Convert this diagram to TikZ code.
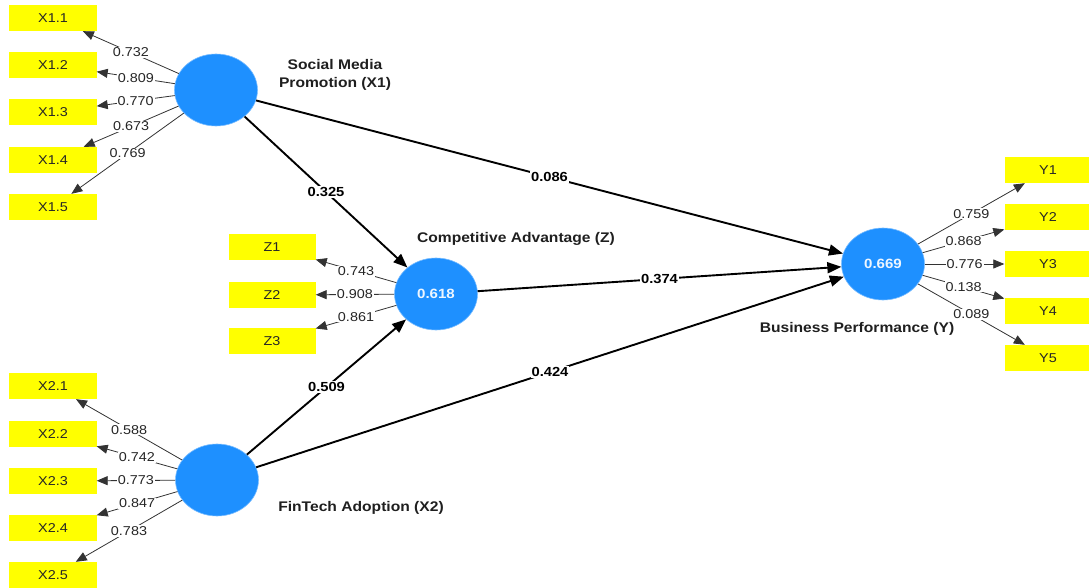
\documentclass[tikz,border=0pt]{standalone}
\usepackage{fontspec}
\setmainfont[FakeStretch=1.12]{Liberation Sans}
\usetikzlibrary{shapes.geometric,arrows.meta}
\definecolor{lvblue}{RGB}{30,144,255}
\definecolor{indyellow}{RGB}{255,255,0}
\begin{document}
\begin{tikzpicture}[x=1bp,y=-1bp,
 lv/.style={ellipse,fill=lvblue,draw=lvblue!60!white,line width=0.6bp,minimum width=83bp,minimum height=72bp,inner sep=0pt,text=white!92!lvblue,font=\fontsize{13.5}{13.5}\bfseries\selectfont},
 ind/.style={rectangle,fill=indyellow,minimum width=87bp,minimum height=26bp,inner sep=0pt,font=\fontsize{12.9}{12.9}\selectfont,text=black!85},
 load/.style={draw=black!80,line width=0.8bp,-{Triangle[length=11bp,width=9bp]}},
 pth/.style={draw=black,line width=1.9bp,-{Triangle[length=14bp,width=11bp]}},
 llab/.style={fill=white,inner sep=1bp,font=\fontsize{12.9}{12.9}\selectfont,text=black!85},
 plab/.style={fill=white,inner sep=1bp,font=\fontsize{13.2}{13.2}\bfseries\selectfont},
 ctitle/.style={font=\fontsize{14}{17.5}\bfseries\selectfont,align=center,text=black!88}]
\useasboundingbox (0,0) rectangle (1089,588);
% latent variables
\node[lv] (X1) at (216,90) {};
\node[lv] (Z) at (436,294) {0.618};
\node[lv] (Y) at (883,264) {0.669};
\node[lv] (X2) at (217,480) {};
% indicators X1
\node[ind] (X11) at (53,18) {X1.1};
\node[ind] (X12) at (53,65) {X1.2};
\node[ind] (X13) at (53,112) {X1.3};
\node[ind] (X14) at (53,160) {X1.4};
\node[ind] (X15) at (53,207) {X1.5};
% indicators X2
\node[ind] (X21) at (53,386) {X2.1};
\node[ind] (X22) at (53,434) {X2.2};
\node[ind] (X23) at (53,481) {X2.3};
\node[ind] (X24) at (53,528) {X2.4};
\node[ind] (X25) at (53,575) {X2.5};
% indicators Z
\node[ind] (Z1) at (272,247) {Z1};
\node[ind] (Z2) at (272,295) {Z2};
\node[ind] (Z3) at (272,341) {Z3};
% indicators Y
\node[ind] (Y1) at (1048,170) {Y1};
\node[ind] (Y2) at (1048,217) {Y2};
\node[ind] (Y3) at (1048,264) {Y3};
\node[ind] (Y4) at (1048,311) {Y4};
\node[ind] (Y5) at (1048,358) {Y5};
% titles
\node[ctitle] (tX1) at (335,75) {Social Media\\Promotion (X1)};
\node[ctitle] (tZ) at (516,239) {Competitive Advantage (Z)};
\node[ctitle] (tY) at (857,329) {Business Performance (Y)};
\node[ctitle] (tX2) at (361,508) {FinTech Adoption (X2)};
% loadings
\draw[load] (X1) -- node[llab]{0.732} (X11);
\draw[load] (X1) -- node[llab]{0.809} (X12);
\draw[load] (X1) -- node[llab]{0.770} (X13);
\draw[load] (X1) -- node[llab]{0.673} (X14);
\draw[load] (X1) -- node[llab]{0.769} (X15);
\draw[load] (X2) -- node[llab]{0.588} (X21);
\draw[load] (X2) -- node[llab]{0.742} (X22);
\draw[load] (X2) -- node[llab]{0.773} (X23);
\draw[load] (X2) -- node[llab]{0.847} (X24);
\draw[load] (X2) -- node[llab]{0.783} (X25);
\draw[load] (Z) -- node[llab]{0.743} (Z1);
\draw[load] (Z) -- node[llab]{0.908} (Z2);
\draw[load] (Z) -- node[llab]{0.861} (Z3);
\draw[load] (Y) -- node[llab]{0.759} (Y1);
\draw[load] (Y) -- node[llab]{0.868} (Y2);
\draw[load] (Y) -- node[llab]{0.776} (Y3);
\draw[load] (Y) -- node[llab]{0.138} (Y4);
\draw[load] (Y) -- node[llab]{0.089} (Y5);
% structural paths
\draw[pth] (X1) -- node[plab]{0.325} (Z);
\draw[pth] (X1) -- node[plab]{0.086} (Y);
\draw[pth] (Z) -- node[plab]{0.374} (Y);
\draw[pth] (X2) -- node[plab]{0.509} (Z);
\draw[pth] (X2) -- node[plab]{0.424} (Y);
\end{tikzpicture}
\end{document}
